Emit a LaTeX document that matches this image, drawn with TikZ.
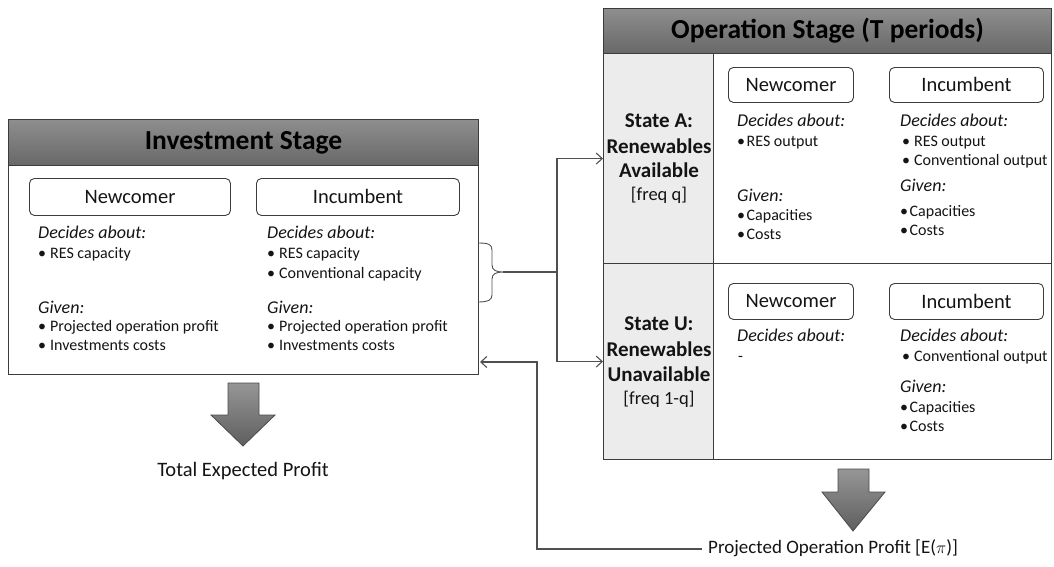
\documentclass[tikz,border=0pt]{standalone}
\usepackage{fontspec}
\setmainfont{Carlito}
\usetikzlibrary{arrows.meta,calc}
\definecolor{hdrtop}{HTML}{8E8E8E}
\definecolor{hdrbot}{HTML}{686868}
\definecolor{edge}{HTML}{3C3C3C}
\definecolor{cellgray}{HTML}{ECECEC}
\definecolor{arrtop}{HTML}{969696}
\definecolor{arrbot}{HTML}{5E5E5E}
\definecolor{txt}{HTML}{141414}
\begin{document}
\begin{tikzpicture}[x=1pt,y=-1pt,
  frame/.style={draw=edge,line width=1.1pt,anchor=north west,inner sep=0pt},
  hdr/.style={draw=edge,line width=1.1pt,anchor=north west,inner sep=0pt,top color=hdrtop,bottom color=hdrbot,text=black,font=\fontsize{27.5}{27.5}\selectfont\bfseries},
  cell/.style={draw=edge,line width=1.1pt,anchor=north west,inner sep=0pt,fill=cellgray},
  role/.style={draw=edge,line width=0.9pt,rounded corners=5pt,anchor=north west,inner sep=0pt,text=txt,font=\fontsize{20.5}{20.5}\selectfont},
  ital/.style={anchor=west,inner sep=0pt,text=txt,text height=12pt,text depth=4pt,font=\fontsize{18}{18}\selectfont\itshape},
  bul/.style={anchor=west,inner sep=0pt,text=txt,text height=11pt,text depth=3pt,font=\fontsize{16}{16}\selectfont},
  stbold/.style={inner sep=0pt,text=txt,text height=14pt,text depth=4pt,font=\fontsize{21}{21}\selectfont\bfseries},
  streg/.style={inner sep=0pt,text=txt,text height=12pt,text depth=4pt,font=\fontsize{18.5}{18.5}\selectfont},
  lbl/.style={inner sep=0pt,text=txt,text height=13pt,text depth=4pt,font=\fontsize{20.5}{20.5}\selectfont},
  conn/.style={draw=edge!90,line width=1.1pt},
  arr/.style={conn,-{Straight Barb[length=6pt,width=11pt,line width=1.1pt]}},
  bigarrow/.style={draw=arrbot!80!black,line width=0.8pt,top color=arrtop,bottom color=arrbot}
]
\useasboundingbox (0,0) rectangle (1054,566);

% ---------------- Investment stage ----------------
\node[frame,minimum width=470,minimum height=255] (inv) at (8,119) {};
\node[hdr,minimum width=470,minimum height=46] (invhdr) at (8,119) {Investment Stage};
\node[role,minimum width=201,minimum height=37] (invnew) at (29,178) {Newcomer};
\node[role,minimum width=203,minimum height=37] (invinc) at (256,178) {Incumbent};

\node[ital] (i1) at (38,234) {Decides about:};
\node[bul] (i2) at (38,254) {•\hspace{4pt}RES capacity};
\node[ital] (i3) at (38,309) {Given:};
\node[bul] (i4) at (38,327) {•\hspace{4pt}Projected operation profit};
\node[bul] (i5) at (38,346) {•\hspace{4pt}Investments costs};

\node[ital] (j1) at (267,234) {Decides about:};
\node[bul] (j2) at (267,254) {•\hspace{4pt}RES capacity};
\node[bul] (j3) at (267,274) {•\hspace{4pt}Conventional capacity};
\node[ital] (j4) at (267,309) {Given:};
\node[bul] (j5) at (267,327) {•\hspace{4pt}Projected operation profit};
\node[bul] (j6) at (267,346) {•\hspace{4pt}Investments costs};

% ---------------- Operation stage ----------------
\node[frame,minimum width=448,minimum height=451] (op) at (603,8) {};
\node[cell,minimum width=110,minimum height=210] (stA) at (603,53) {};
\node[cell,minimum width=110,minimum height=196] (stU) at (603,263) {};
\node[frame,minimum width=338,minimum height=210] (cA) at (713,53) {};
\node[frame,minimum width=338,minimum height=196] (cU) at (713,263) {};
\node[hdr,minimum width=448,minimum height=45] (ophdr) at (603,8) {Operation Stage (T periods)};

\node[stbold] (sa1) at (659,122) {State A:};
\node[stbold] (sa2) at (659,148) {Renewables};
\node[stbold] (sa3) at (659,172) {Available};
\node[streg] (sa4) at (659,196) {[freq q]};

\node[stbold] (su1) at (659,325) {State U:};
\node[stbold] (su2) at (659,351) {Renewables};
\node[stbold] (su3) at (659,376) {Unavailable};
\node[streg] (su4) at (659,400) {[freq 1-q]};

\node[role,minimum width=125,minimum height=35] (anew) at (728,67) {Newcomer};
\node[role,minimum width=154,minimum height=35] (ainc) at (889,67) {Incumbent};
\node[role,minimum width=125,minimum height=36] (unew) at (728,283) {Newcomer};
\node[role,minimum width=154,minimum height=36] (uinc) at (889,283) {Incumbent};

\node[ital] (a1) at (737,122) {Decides about:};
\node[bul] (a2) at (737,142) {•\hspace{1.5pt}RES output};
\node[ital] (a3) at (737,197) {Given:};
\node[bul] (a4) at (737,216) {•\hspace{1.5pt}Capacities};
\node[bul] (a5) at (737,235) {•\hspace{1.5pt}Costs};

\node[ital] (b1) at (900,122) {Decides about:};
\node[bul] (b2) at (902,142) {•\hspace{4pt}RES output};
\node[bul] (b3) at (902,161) {•\hspace{4pt}Conventional output};
\node[ital] (b4) at (900,187) {Given:};
\node[bul] (b5) at (900,212) {•\hspace{1.5pt}Capacities};
\node[bul] (b6) at (900,231) {•\hspace{1.5pt}Costs};

\node[ital] (c1) at (737,337) {Decides about:};
\node[bul] (c2) at (738,357) {-};

\node[ital] (d1) at (900,337) {Decides about:};
\node[bul] (d2) at (902,357) {•\hspace{4pt}Conventional output};
\node[ital] (d3) at (900,388) {Given:};
\node[bul] (d4) at (900,408) {•\hspace{1.5pt}Capacities};
\node[bul] (d5) at (900,427) {•\hspace{1.5pt}Costs};

% ---------------- Big arrows and labels ----------------
\path[bigarrow] (228,383) -- (259,383) -- (259,415) -- (275,415) -- (243,446) -- (211,415) -- (228,415) -- cycle;
\node[lbl] (totprof) at (243,472) {Total Expected Profit};

\path[bigarrow] (838,469) -- (869,469) -- (869,492) -- (885,492) -- (853,531) -- (822,492) -- (838,492) -- cycle;
\node[lbl,anchor=west,inner xsep=6pt,font=\fontsize{19}{19}\selectfont] (oplbl) at (702,549) {Projected Operation Profit [E($\pi$)]};

% ---------------- Brace and connectors ----------------
\draw[conn,line width=0.9pt] (478,243) .. controls (488,243) and (492,244) .. (492,250) -- (492,265)
  .. controls (492,270) and (496,272) .. (503,272)
  .. controls (496,272) and (492,274) .. (492,279) -- (492,295)
  .. controls (492,300) and (488,302) .. (478,302);
\coordinate (brtip) at (503,272);
\coordinate (split) at (557,272);
\draw[conn] (brtip) -- (split);
\draw[arr] (split) |- (stA.west);
\draw[arr] (split) |- (stU.west);

\coordinate (fbin) at (480,362);
\draw[arr] (oplbl.west) -| (537,362) -- (fbin);
\end{tikzpicture}
\end{document}
